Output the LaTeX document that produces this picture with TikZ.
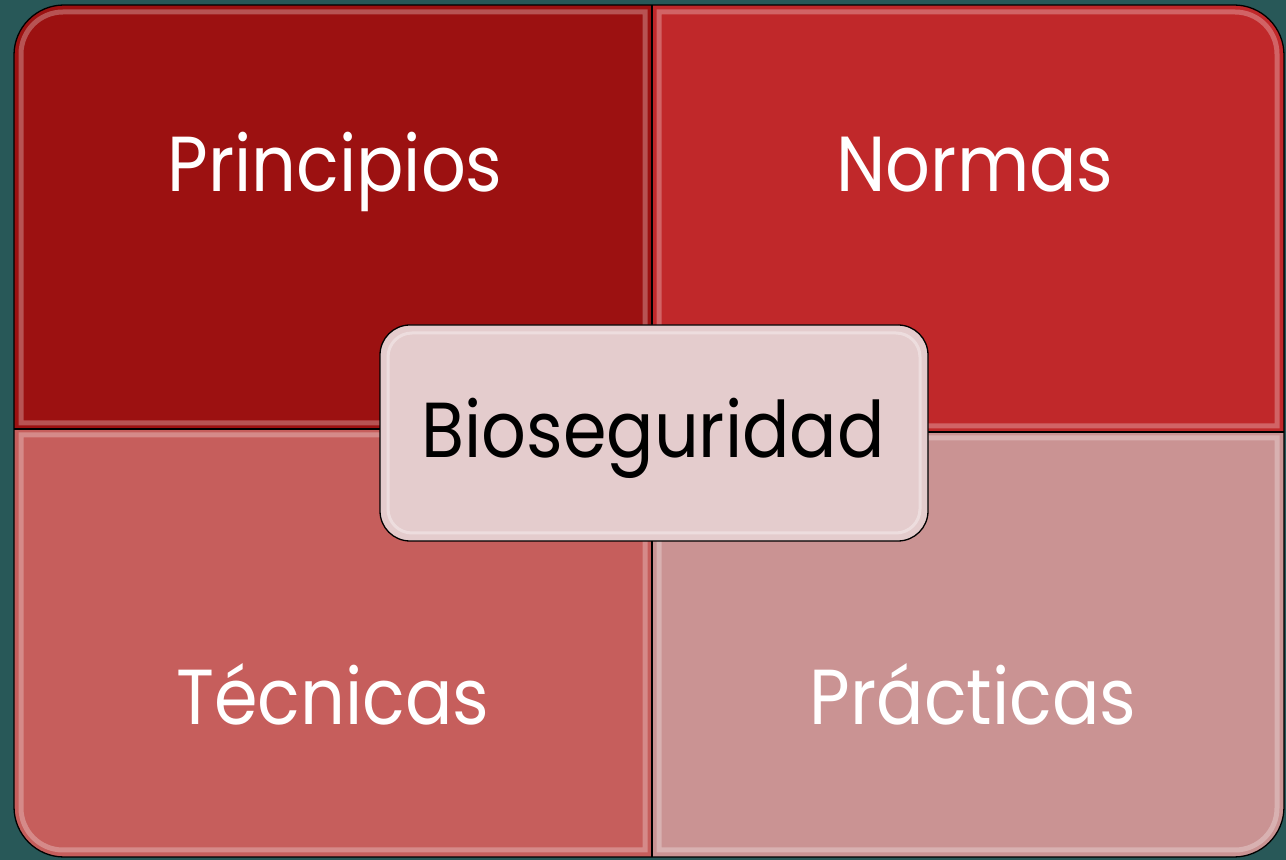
\documentclass[tikz,border=0pt]{standalone}
\usepackage{fontspec}
\setmainfont{Poppins}[FakeStretch=0.9]
\definecolor{bgteal}{RGB}{40,88,88}
\definecolor{qtl}{RGB}{156,17,17}
\definecolor{qtr}{RGB}{192,40,42}
\definecolor{qbl}{RGB}{198,94,92}
\definecolor{qbr}{RGB}{202,147,147}
\definecolor{qcenter}{RGB}{228,204,205}
\tikzset{
  quadlabel/.style={anchor=base, text=white, font=\fontsize{78}{90}\selectfont},
  centerlabel/.style={anchor=base, text=black, font=\fontsize{78}{90}\selectfont},
  bevel/.style={draw=white, line width=5pt, opacity=0.28},
  edge/.style={draw=black, line width=1.3pt}
}
\begin{document}
\begin{tikzpicture}[x=1pt,y=1pt]
\useasboundingbox (0,0) rectangle (1286,860);
\fill[bgteal] (0,0) rectangle (1286,860);
\begin{scope}
  \clip[rounded corners=50pt] (14,3) rectangle (1284,855);
  \fill[qtl] (14,431) rectangle (652,855);
  \fill[qtr] (652,428) rectangle (1284,855);
  \fill[qbl] (14,3) rectangle (652,431);
  \fill[qbr] (652,3) rectangle (1284,428);
  % bevel highlights
  \draw[bevel] (645,437) -- (21,437) -- (21,806) arc[start angle=180,end angle=90,radius=42] -- (645,848) -- cycle;
  \draw[bevel] (659,434) -- (1277,434) -- (1277,806) arc[start angle=0,end angle=90,radius=42] -- (659,848) -- cycle;
  \draw[bevel] (645,425) -- (21,425) -- (21,52) arc[start angle=180,end angle=270,radius=42] -- (645,10) -- cycle;
  \draw[bevel] (659,422) -- (1277,422) -- (1277,52) arc[start angle=0,end angle=-90,radius=42] -- (659,10) -- cycle;
  % inner dividing lines
  \draw[edge] (652,3) -- (652,855);
  \draw[edge] (14,431) -- (652,431);
  \draw[edge] (652,428) -- (1284,428);
\end{scope}
\draw[edge, rounded corners=50pt] (14,3) rectangle (1284,855);
\node[quadlabel] (principios) at (335,668) {Principios};
\node[quadlabel] (normas) at (975,668) {Normas};
\node[quadlabel] (tecnicas) at (333,135) {Técnicas};
\node[quadlabel] (practicas) at (973,135) {Prácticas};
\fill[qcenter, rounded corners=30pt] (380,319) rectangle (928,535);
\draw[white, line width=3pt, opacity=0.35, rounded corners=24pt] (388,327) rectangle (920,527);
\draw[edge, rounded corners=30pt] (380,319) rectangle (928,535);
\node[centerlabel] (bioseguridad) at (653,402) {Bioseguridad};
\end{tikzpicture}
\end{document}
